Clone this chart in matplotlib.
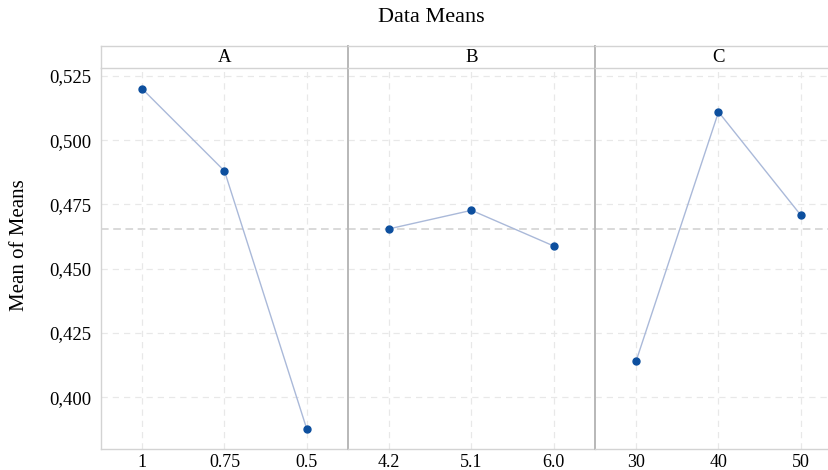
import matplotlib.pyplot as plt
import numpy as np

plt.rcParams['font.family'] = ['Liberation Serif', 'DejaVu Serif']

# main effects data
factors = ['A', 'B', 'C']
levels = [['1', '0.75', '0.5'], ['4.2', '5.1', '6.0'], ['30', '40', '50']]
means_a = [0.520, 0.488, 0.3875]
means_b = [0.4655, 0.4727, 0.4588]
means_c = [0.4141, 0.5110, 0.4708]
yticks = [0.400, 0.425, 0.450, 0.475, 0.500, 0.525]

all_means = [means_a, means_b, means_c]
grand_mean = np.mean(means_a + means_b + means_c)

W, H = 829, 470
fig = plt.figure(figsize=(W / 100, H / 100), dpi=100)

left, pw = 101, 247
top_hdr, top_ax, bot_ax = 46, 68, 449

axes = []
for i, (fac, labs, vals) in enumerate(zip(factors, levels, all_means)):
    x0 = left + i * pw
    ax = fig.add_axes([x0 / W, (H - bot_ax) / H, pw / W, (bot_ax - top_ax) / H],
                      sharey=axes[0] if axes else None)
    axes.append(ax)
    x = np.arange(1, len(vals) + 1)
    ax.set_xlim(0.5, 3.5)
    ax.set_ylim(0.3798, 0.5281)
    ax.set_xticks(x)
    ax.set_xticklabels(labs)
    ax.set_yticks(yticks)
    ax.grid(True, color='#e8e8e8', linestyle=(0, (5, 4)), linewidth=0.9)
    ax.axhline(grand_mean, color='#cfcfcf', linestyle=(0, (5, 3)), linewidth=1.1, zorder=1)
    ax.plot(x, vals, color='#aab9d9', linewidth=1.0, zorder=2)
    ax.plot(x, vals, 'o', color='#0d4f9e', markersize=5, zorder=3)
    ax.tick_params(axis='y', length=0, pad=7, labelsize=13.5)
    ax.tick_params(axis='x', length=0, pad=3.5, labelsize=13)
    for s in ax.spines.values():
        s.set_color('#d3d3d3')
        s.set_linewidth(1.0)
    ax.spines['top'].set_visible(False)
    if i > 0:
        ax.spines['left'].set_color('#b8b8b8')
        ax.spines['left'].set_linewidth(1.4)
        ax.tick_params(labelleft=False)
    else:
        ax.set_yticklabels([f'{t:.3f}'.replace('.', ',') for t in yticks])
        ax.set_ylabel('Mean of Means', fontsize=15)
        ax.yaxis.set_label_coords((29 - 101) / pw, (bot_ax - 245) / (bot_ax - top_ax))
    ax.spines['right'].set_visible(False)

    # header strip with factor name
    hx = fig.add_axes([x0 / W, (H - top_ax) / H, pw / W, (top_ax - top_hdr) / H])
    hx.set_xticks([])
    hx.set_yticks([])
    for s in hx.spines.values():
        s.set_color('#d3d3d3')
        s.set_linewidth(1.0)
    hx.spines['right'].set_visible(False)
    if i > 0:
        hx.spines['left'].set_color('#b8b8b8')
        hx.spines['left'].set_linewidth(1.4)
    hx.text(0.5, 0.5, fac, ha='center', va='center', fontsize=13.5, transform=hx.transAxes)

fig.text(431 / W, 1 - 17 / H, 'Data Means', ha='center', va='center', fontsize=16)

fig.savefig('out.png', dpi=100)
